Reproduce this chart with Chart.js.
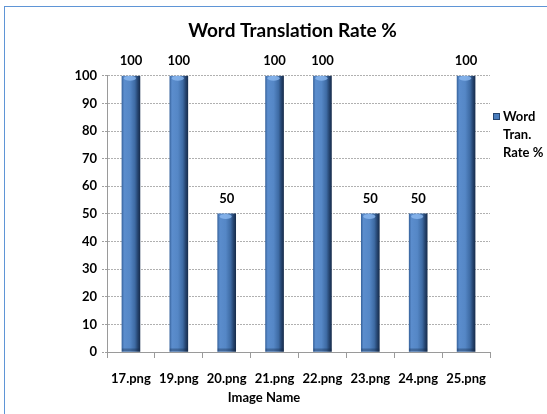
<!DOCTYPE html>
<html>
<head>
<meta charset="utf-8">
<script src="https://cdn.jsdelivr.net/npm/chart.js@4.4.1/dist/chart.umd.min.js"></script>
<style>
  html,body{margin:0;padding:0;background:#fff;}
  #wrap{position:relative;width:547px;height:414px;overflow:hidden;}
  #frame{position:absolute;left:4px;top:6px;width:600px;height:500px;border:1.5px solid #5f95d6;pointer-events:none;}
  canvas{position:absolute;left:0;top:0;}
</style>
</head>
<body>
<div id="wrap">
<canvas id="c" width="547" height="414"></canvas>
<div id="frame"></div>
</div>
<script>
const chartTitle = "Word Translation Rate %";
const xAxisTitle = "Image Name";
const categories = ["17.png","19.png","20.png","21.png","22.png","23.png","24.png","25.png"];
const seriesName = "Word Tran. Rate %";
const legendLines = ["Word","Tran.","Rate %"];
const values = [100,100,50,100,100,50,50,100];
const yTicks = [0,10,20,30,40,50,60,70,80,90,100];

const FONT = "Lato, 'Open Sans', sans-serif";
const BAR_W = 18;

function barFill(ctx){
  const chart = ctx.chart;
  const xs = chart.scales && chart.scales.x;
  if(!xs || ctx.dataIndex === undefined || !chart.chartArea) return '#4f81bd';
  const x = xs.getPixelForValue(ctx.dataIndex);
  const w = BAR_W;
  const g = chart.ctx.createLinearGradient(x - w/2, 0, x + w/2, 0);
  g.addColorStop(0, '#3a66a0');
  g.addColorStop(0.12, '#5b8dcd');
  g.addColorStop(0.45, '#5587c6');
  g.addColorStop(0.72, '#3e6ba4');
  g.addColorStop(0.88, '#25446f');
  g.addColorStop(1, '#182e4e');
  return g;
}

const extrasPlugin = {
  id: 'extras',
  afterDatasetsDraw(chart){
    const ctx = chart.ctx;
    const meta = chart.getDatasetMeta(0);
    ctx.save();
    meta.data.forEach((bar) => {
      const w = bar.width;
      ctx.fillStyle = 'rgba(140,185,240,0.8)';
      ctx.beginPath();
      ctx.ellipse(bar.x - 1, bar.y + 2.5, w/2 - 3, 2.5, 0, 0, Math.PI*2);
      ctx.fill();
      ctx.fillStyle = 'rgba(20,40,70,0.35)';
      ctx.fillRect(bar.x - w/2, bar.base - 3, w, 3);
    });
    ctx.fillStyle = '#000';
    ctx.font = "bold 13px " + FONT;
    ctx.textAlign = 'center';
    ctx.textBaseline = 'middle';
    meta.data.forEach((bar, i) => {
      ctx.fillText(String(values[i]), bar.x, bar.y - 15);
    });
    const area = chart.chartArea;
    ctx.font = "bold 13px " + FONT;
    ctx.fillText(xAxisTitle, area.left + area.width * 0.41, 398);
    const lx = area.right + 3, ly = 117;
    ctx.fillStyle = '#4a7dbd';
    ctx.fillRect(lx, ly - 4, 7, 7);
    ctx.strokeStyle = '#24436e';
    ctx.lineWidth = 1;
    ctx.strokeRect(lx + 0.5, ly - 3.5, 6, 6);
    ctx.fillStyle = '#000';
    ctx.textAlign = 'left';
    ctx.font = "bold 13px " + FONT;
    legendLines.forEach((t, k) => ctx.fillText(t, lx + 10, ly + k * 18));
    ctx.restore();
  }
};

new Chart(document.getElementById('c'), {
  type: 'bar',
  data: {
    labels: categories,
    datasets: [{
      label: seriesName,
      data: values,
      backgroundColor: barFill,
      borderWidth: 0,
      barThickness: BAR_W
    }]
  },
  options: {
    responsive: false,
    animation: false,
    devicePixelRatio: 1,
    layout: { padding: { left: 38, right: 0, top: 0, bottom: 0 } },
    plugins: {
      legend: { display: false },
      tooltip: { enabled: false },
      title: {
        display: true,
        text: chartTitle,
        color: '#000',
        font: { family: FONT, size: 19, weight: 'bold' },
        padding: { top: 19, bottom: 34 }
      }
    },
    scales: {
      x: {
        grid: { display: true, drawOnChartArea: false, drawTicks: true, tickLength: 6, color: '#9a9a9a', offset: true },
        border: { display: true, color: '#9a9a9a', width: 1 },
        ticks: { color: '#000', font: { family: FONT, size: 13, weight: 'bold' }, padding: 13, maxRotation: 0, autoSkip: false },
        afterFit(s){ s.height = 62; }
      },
      y: {
        min: 0, max: 100,
        afterBuildTicks(s){ s.ticks = yTicks.map(v => ({ value: v })); },
        grid: { color: '#b0b0b0', tickLength: 5, tickColor: '#a0a0a0', tickBorderDash: [2,1] },
        border: { display: true, color: '#9a9a9a', dash: [2,1], width: 1 },
        ticks: { color: '#000', font: { family: FONT, size: 13, weight: 'bold' }, padding: 5 },
        afterFit(s){ s.width = 69; }
      },
      yRight: {
        position: 'right',
        display: true,
        grid: { display: false, drawOnChartArea: false },
        border: { display: false },
        ticks: { display: false },
        afterFit(s){ s.width = 57; }
      }
    }
  },
  plugins: [extrasPlugin]
});
</script>
</body>
</html>
